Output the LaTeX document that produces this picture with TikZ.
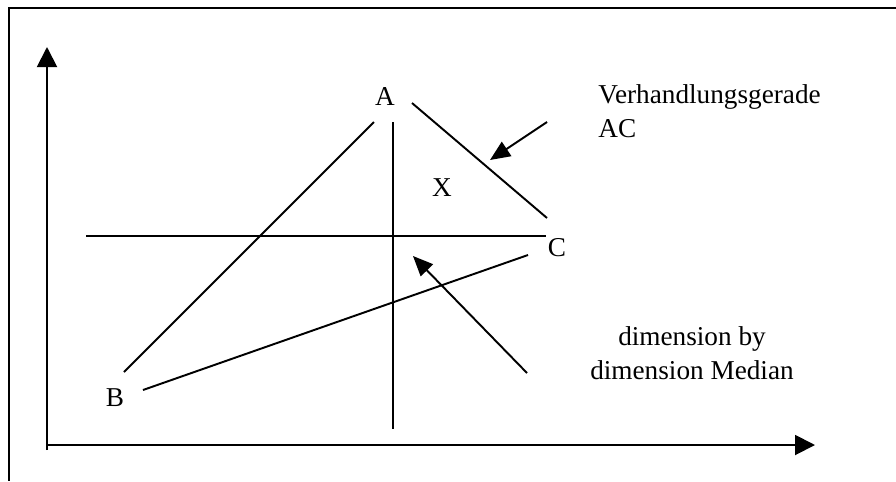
\documentclass[tikz,border=0pt]{standalone}
\usepackage{fontspec}
\setmainfont{Liberation Serif}
\usetikzlibrary{arrows.meta}
\begin{document}
\begin{tikzpicture}[x=0.02cm,y=-0.02cm,
  line/.style={line width=1.1pt},
  axis/.style={line width=1.1pt, -{Triangle[length=0.4cm,width=0.4cm]}},
  pointer/.style={line width=1.1pt, -{Triangle[length=0.4cm,width=0.34cm]}},
  lbl/.style={font=\fontsize{15.5}{19}\selectfont, inner sep=0pt}]
  \useasboundingbox (0,0) rectangle (896,481);
  % frame
  \draw[line] (896,8) -- (9,8) -- (9,481);
  % axes
  \coordinate (O) at (47,445);
  \coordinate (Ytop) at (47,47);
  \coordinate (Xend) at (815,445);
  \draw[axis] (47,450) -- (Ytop);
  \draw[axis] (O) -- (Xend);
  % medians
  \coordinate (H1) at (86,236);
  \coordinate (H2) at (546,236);
  \coordinate (V1) at (393,122);
  \coordinate (V2) at (393,429);
  \draw[line] (H1) -- (H2);
  \draw[line] (V1) -- (V2);
  % triangle
  \node[lbl] (A) at (385,97) {A};
  \node[lbl] (B) at (115,398) {B};
  \node[lbl] (C) at (557,248) {C};
  \node[lbl] (X) at (442,188) {X};
  \coordinate (BA1) at (124,372);
  \coordinate (BA2) at (374,122);
  \coordinate (AC1) at (412,103);
  \coordinate (AC2) at (547,218);
  \coordinate (BC1) at (143,390);
  \coordinate (BC2) at (528,255);
  \draw[line] (BA1) -- (BA2);
  \draw[line] (AC1) -- (AC2);
  \draw[line] (BC1) -- (BC2);
  % labels
  \node[lbl, anchor=west, align=left] (verh) at (598,111) {Verhandlungsgerade\\AC};
  \node[lbl, align=center] (med) at (692,353) {dimension by\\dimension Median};
  \coordinate (P1) at (547,122);
  \coordinate (T1) at (490,160);
  \coordinate (P2) at (527,373);
  \coordinate (T2) at (413,256);
  \draw[pointer] (P1) -- (T1);
  \draw[pointer] (P2) -- (T2);
\end{tikzpicture}
\end{document}
